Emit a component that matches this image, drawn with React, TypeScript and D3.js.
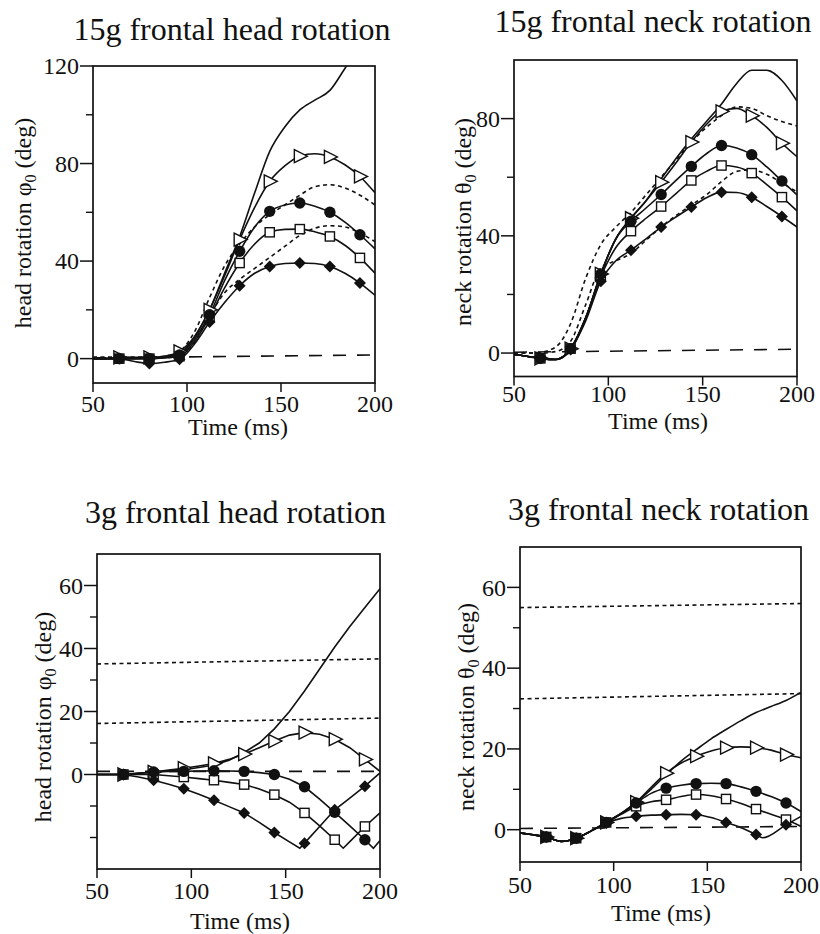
import React from 'react';
import * as d3 from 'd3';

// ---------- shared axes values ----------
const TIMES = [50, 56, 64, 72, 80, 88, 96, 104, 112, 120, 128, 136, 144, 152, 160, 168, 176, 184, 192, 200];
const MARKER_TIMES = [64, 80, 96, 112, 128, 144, 160, 176, 192];
const X_TICKS = [50, 100, 150, 200];
const LINE_T = [50, 200];

// ---------- 15g frontal head rotation ----------
const A_PLAIN = [0, 0, 0, 0, 0.3, 0.8, 2, 9, 20, 35, 50, 68, 85, 95, 102, 106, 110, 119, 128, 138];
const A_TRI = [0, 0, 0.5, 0.5, 0.5, 1, 3, 9, 20, 34, 48.8, 62, 72.7, 79, 83, 84, 82.7, 79.5, 74.7, 68];
const A_CIRC = [0, 0, 0, 0, 0, 0.5, 1.5, 8, 18, 32, 44, 54, 60.4, 63, 63.8, 62.5, 60, 56, 50.8, 45];
const A_SQ = [0, 0, 0, 0, 0, 0.3, 1, 7, 17, 29, 39.2, 47, 51.8, 53, 53.1, 52, 50.1, 46.5, 41.3, 35];
const A_DIA = [0, 0, 0, -1.2, -2, -1.5, -0.3, 6, 15, 23, 29.9, 35, 37.8, 39, 39.2, 39, 37.8, 35, 31, 26];
const A_DOT1 = [0.5, 0.5, 0.5, 0.5, 0.6, 1, 3, 11, 25, 38, 47, 54, 59, 63, 67, 70.5, 71.3, 70, 67, 63];
const A_DOT2 = [0.5, 0.5, 0.5, 0.5, 0.5, 0.5, 1, 7, 17.5, 27, 32.5, 37, 41.5, 46, 50.5, 53.5, 54.5, 54, 51.5, 48];
const A_DASH = [0.3, 1.5];

// ---------- 15g frontal neck rotation ----------
const B_PLAIN = [-0.5, -1, -2, -2.2, 1, 12, 27, 39, 46, 52, 59.5, 66.5, 73, 79, 85, 92, 96.5, 96.5, 93, 86];
const B_TRI = [-0.5, -1, -1.8, -2.2, 1.5, 12, 27, 39, 46, 52, 58.3, 65, 72, 78, 82.5, 83.5, 81, 77, 71.6, 67];
const B_CIRC = [-0.5, -1, -1.8, -2.2, 1.5, 12, 27, 39, 45, 49.5, 54.1, 59, 63.7, 68, 70.8, 70, 67.7, 63.5, 58.7, 54];
const B_SQ = [-0.5, -1, -1.8, -2.2, 1.5, 12, 26, 36, 41.6, 46, 50, 54.5, 58.9, 62, 64, 63.5, 61.4, 57.5, 53.2, 48.5];
const B_DIA = [-0.5, -1, -1.8, -2.2, 1.2, 11, 24.5, 31.5, 35.1, 39, 43, 46.5, 49.8, 53, 54.9, 54.8, 53.2, 50, 46.6, 43];
const B_DOT1 = [0, 0, 0.3, 2, 10, 25.5, 37, 43, 48, 54, 60, 66, 72, 77, 81, 84, 83.5, 81, 79, 77.5];
const B_DOT2 = [0, 0, 0, 0.5, 4, 16.5, 29, 31.5, 34, 38.5, 43, 47, 50.5, 54, 58.5, 62, 62.5, 61, 58, 55];
const B_DASH = [0.3, 1.3];

// ---------- 3g frontal head rotation ----------
const C_PLAIN = [0, 0, 0, 0.4, 0.8, 1.2, 1.5, 2.2, 3, 4.5, 7, 10, 14.5, 20, 26.5, 33.5, 40.5, 47, 53, 59];
const C_TRI = [0, 0, 0, 0.4, 0.8, 1.4, 2, 2.7, 3.5, 4.8, 6.5, 8.5, 10.6, 12.5, 13.3, 12.8, 11.2, 8.5, 4.8, 1];
const C_CIRC_T = [50, 56, 64, 72, 80, 88, 96, 104, 112, 120, 128, 136, 144, 152, 160, 168, 176, 184, 192, 196.5, 200];
const C_CIRC = [0, 0, 0, 0.4, 0.8, 1, 1, 1.1, 1.2, 1.1, 1, 0.6, 0, -1.5, -3.9, -7.8, -12, -16.3, -20.7, -23.4, -21];
const C_SQ_T = [50, 56, 64, 72, 80, 88, 96, 104, 112, 120, 128, 136, 144, 152, 160, 168, 176, 180.5, 184, 192, 200];
const C_SQ = [0, 0, 0, 0, 0, -0.4, -0.8, -1.3, -1.8, -2.5, -3.2, -4.6, -6.4, -8.8, -12.2, -16.3, -20.7, -23.4, -21.3, -16.5, -12.2];
const C_DIA_T = [50, 56, 64, 72, 80, 88, 96, 104, 112, 120, 128, 136, 144, 152, 157.5, 160, 168, 176, 184, 192, 200];
const C_DIA = [0, 0, 0, -0.8, -1.8, -3.1, -4.5, -6.3, -8.2, -10.2, -12.2, -15.2, -18.4, -21.4, -23.4, -21.8, -16.5, -11.2, -7.5, -3.7, 0.5];
const C_DOT1 = [35.1, 36.7];
const C_DOT2 = [16.2, 17.9];
const C_DASH = [1, 1];

// ---------- 3g frontal neck rotation ----------
const D_PLAIN = [-0.8, -1.2, -1.8, -2.9, -2.1, -0.3, 1.8, 4, 6.8, 10, 13.6, 17, 19.8, 22.5, 24.8, 27, 29, 30.5, 32, 34];
const D_TRI = [-0.8, -1.2, -1.8, -2.9, -2.1, -0.3, 1.8, 4, 6.8, 10.5, 14, 16.5, 18.2, 19.5, 20.3, 20.5, 20.3, 19.7, 18.6, 17.8];
const D_CIRC = [-0.8, -1.2, -1.8, -2.9, -2.1, -0.3, 1.8, 4, 6.6, 9, 10.3, 11, 11.4, 11.5, 11.4, 10.6, 9.5, 8.2, 6.6, 4.5];
const D_SQ = [-0.8, -1.2, -1.8, -2.9, -2.1, -0.3, 1.8, 3.8, 5.8, 6.9, 7.4, 8.2, 8.7, 8.4, 7.6, 6.5, 5.1, 3.8, 2.5, 0.8];
const D_DIA_T = [50, 56, 64, 72, 80, 88, 96, 104, 112, 120, 128, 136, 144, 152, 160, 168, 176, 179.5, 192, 200];
const D_DIA = [-0.8, -1.2, -1.8, -2.9, -2.1, -0.3, 1.6, 2.8, 3.3, 3.6, 3.7, 3.8, 3.7, 3, 1.8, 0.5, -1.2, -2, 1.2, 3.3];
const D_DOT1 = [55, 56];
const D_DOT2 = [32.4, 33.7];
const D_DASH = [0.3, 0.8];

type Kind = 'plain' | 'tri' | 'circ' | 'sq' | 'dia' | 'dot' | 'dash';
type Series = { t: number[]; v: number[]; kind: Kind };

const mk = (t: number[], v: number[], kind: Kind): Series => ({ t, v, kind });

const PANELS = [
  {
    id: 'a', title: '15g frontal head rotation', ylab: 'head rotation φ',
    yDomain: [-10, 120], xRange: [93, 375], yRange: [383, 66],
    major: [0, 40, 80, 120], minor: [20, 60, 100], smooth: true,
    titlePos: [232, 40], ylabPos: [23, 223], xTickBase: 412, xlabPos: [238, 435],
    series: [
      mk(LINE_T, A_DASH, 'dash'), mk(TIMES, A_DOT1, 'dot'), mk(TIMES, A_DOT2, 'dot'),
      mk(TIMES, A_PLAIN, 'plain'), mk(TIMES, A_TRI, 'tri'), mk(TIMES, A_SQ, 'sq'),
      mk(TIMES, A_CIRC, 'circ'), mk(TIMES, A_DIA, 'dia'),
    ],
  },
  {
    id: 'b', title: '15g frontal neck rotation', ylab: 'neck rotation θ',
    yDomain: [-8, 100], xRange: [514, 797], yRange: [376.5, 60],
    major: [0, 40, 80], minor: [20, 60], smooth: true,
    titlePos: [653, 32], ylabPos: [463, 222], xTickBase: 402, xlabPos: [658, 429],
    series: [
      mk(LINE_T, B_DASH, 'dash'), mk(TIMES, B_DOT1, 'dot'), mk(TIMES, B_DOT2, 'dot'),
      mk(TIMES, B_PLAIN, 'plain'), mk(TIMES, B_TRI, 'tri'), mk(TIMES, B_SQ, 'sq'),
      mk(TIMES, B_CIRC, 'circ'), mk(TIMES, B_DIA, 'dia'),
    ],
  },
  {
    id: 'c', title: '3g frontal head rotation', ylab: 'head rotation φ',
    yDomain: [-30, 70], xRange: [97, 380], yRange: [869, 554],
    major: [0, 20, 40, 60], minor: [-20, -10, 10, 30, 50], smooth: false,
    titlePos: [235.5, 523], ylabPos: [43, 717], xTickBase: 899, xlabPos: [240, 929],
    series: [
      mk(LINE_T, C_DASH, 'dash'), mk(LINE_T, C_DOT1, 'dot'), mk(LINE_T, C_DOT2, 'dot'),
      mk(TIMES, C_PLAIN, 'plain'), mk(TIMES, C_TRI, 'tri'), mk(C_SQ_T, C_SQ, 'sq'),
      mk(C_CIRC_T, C_CIRC, 'circ'), mk(C_DIA_T, C_DIA, 'dia'),
    ],
  },
  {
    id: 'd', title: '3g frontal neck rotation', ylab: 'neck rotation θ',
    yDomain: [-8, 70], xRange: [520, 801], yRange: [862, 547],
    major: [0, 20, 40, 60], minor: [10, 30, 50], smooth: true,
    titlePos: [658.5, 520], ylabPos: [466, 707], xTickBase: 893, xlabPos: [661, 921],
    series: [
      mk(LINE_T, D_DASH, 'dash'), mk(LINE_T, D_DOT1, 'dot'), mk(LINE_T, D_DOT2, 'dot'),
      mk(TIMES, D_PLAIN, 'plain'), mk(TIMES, D_TRI, 'tri'), mk(TIMES, D_SQ, 'sq'),
      mk(TIMES, D_CIRC, 'circ'), mk(D_DIA_T, D_DIA, 'dia'),
    ],
  },
];

const FONT = '"Liberation Serif", "Times New Roman", serif';
const INK = '#111';

function Marker({ kind, x, y }: { kind: Kind; x: number; y: number }) {
  if (kind === 'tri') {
    const w = 13, h = 13;
    const p = `M${x - w * 0.42},${y - h / 2}L${x + w * 0.58},${y}L${x - w * 0.42},${y + h / 2}Z`;
    return <path d={p} fill="#fff" stroke={INK} strokeWidth={1.4} strokeLinejoin="miter" />;
  }
  if (kind === 'circ') return <circle cx={x} cy={y} r={5.7} fill={INK} />;
  if (kind === 'sq') return <rect x={x - 4.6} y={y - 4.6} width={9.2} height={9.2} fill="#fff" stroke={INK} strokeWidth={1.4} />;
  if (kind === 'dia') {
    const r = 6;
    return <path d={`M${x},${y - r}L${x + r},${y}L${x},${y + r}L${x - r},${y}Z`} fill={INK} />;
  }
  return null;
}

function Panel({ p }: { p: (typeof PANELS)[number] }) {
  const x = d3.scaleLinear().domain([50, 200]).range(p.xRange);
  const y = d3.scaleLinear().domain(p.yDomain).range(p.yRange);
  const [x0, x1] = p.xRange;
  const [yb, yt] = p.yRange;
  const line = d3
    .line<[number, number]>()
    .x((d) => x(d[0]))
    .y((d) => y(d[1]))
    .curve(p.smooth ? d3.curveMonotoneX : d3.curveLinear);
  const clipId = `clip-${p.id}`;
  const markerKinds: Kind[] = ['tri', 'sq', 'circ', 'dia'];
  return (
    <g>
      <defs>
        <clipPath id={clipId}>
          <rect x={x0} y={yt} width={x1 - x0} height={yb - yt} />
        </clipPath>
      </defs>
      <text x={p.titlePos[0]} y={p.titlePos[1]} textAnchor="middle" fontFamily={FONT} fontSize={32} fill={INK}>
        {p.title}
      </text>
      <g clipPath={`url(#${clipId})`}>
        {p.series.map((s, i) => {
          const pts = s.t.map((t, j) => [t, s.v[j]] as [number, number]);
          const dash = s.kind === 'dot' ? '4,3.5' : s.kind === 'dash' ? '13,11' : undefined;
          return (
            <path key={i} d={line(pts) || ''} fill="none" stroke={INK} strokeWidth={1.6} strokeDasharray={dash} />
          );
        })}
      </g>
      {markerKinds.map((k) =>
        p.series
          .filter((s) => s.kind === k)
          .map((s, si) =>
            s.t.map((t, j) =>
              MARKER_TIMES.includes(t) ? <Marker key={`${k}-${si}-${j}`} kind={k} x={x(t)} y={y(s.v[j])} /> : null
            )
          )
      )}
      <rect x={x0} y={yt} width={x1 - x0} height={yb - yt} fill="none" stroke={INK} strokeWidth={1.7} />
      {p.major.map((v) => (
        <g key={`M${v}`}>
          <line x1={x0 - 13} x2={x0} y1={y(v)} y2={y(v)} stroke={INK} strokeWidth={1.5} />
          <text x={x0 - 14} y={y(v)} dy="0.34em" textAnchor="end" fontFamily={FONT} fontSize={24} fill={INK}>
            {v}
          </text>
        </g>
      ))}
      {p.minor.map((v) => (
        <line key={`m${v}`} x1={x0 - 7} x2={x0} y1={y(v)} y2={y(v)} stroke={INK} strokeWidth={1.4} />
      ))}
      {X_TICKS.map((t) => (
        <g key={`x${t}`}>
          <line x1={x(t)} x2={x(t)} y1={yb} y2={yb + 9} stroke={INK} strokeWidth={1.5} />
          <text x={x(t)} y={p.xTickBase} textAnchor="middle" fontFamily={FONT} fontSize={24} fill={INK}>
            {t}
          </text>
        </g>
      ))}
      <text x={p.xlabPos[0]} y={p.xlabPos[1]} textAnchor="middle" fontFamily={FONT} fontSize={24} fill={INK}>
        Time (ms)
      </text>
      <text
        transform={`translate(${p.ylabPos[0]},${p.ylabPos[1]}) rotate(-90)`}
        textAnchor="middle"
        dy="0.32em"
        fontFamily={FONT}
        fontSize={24}
        fill={INK}
      >
        {p.ylab}
        <tspan dy={5} fontSize={16}>0</tspan>
        <tspan dy={-5}> (deg)</tspan>
      </text>
    </g>
  );
}

export default function App() {
  return (
    <svg
      width={820}
      height={934}
      viewBox="0 0 820 934"
      style={{ position: 'absolute', left: 0, top: 0, background: '#fff' }}
    >
      <rect x={0} y={0} width={820} height={934} fill="#fff" />
      {PANELS.map((p) => (
        <Panel key={p.id} p={p} />
      ))}
    </svg>
  );
}
